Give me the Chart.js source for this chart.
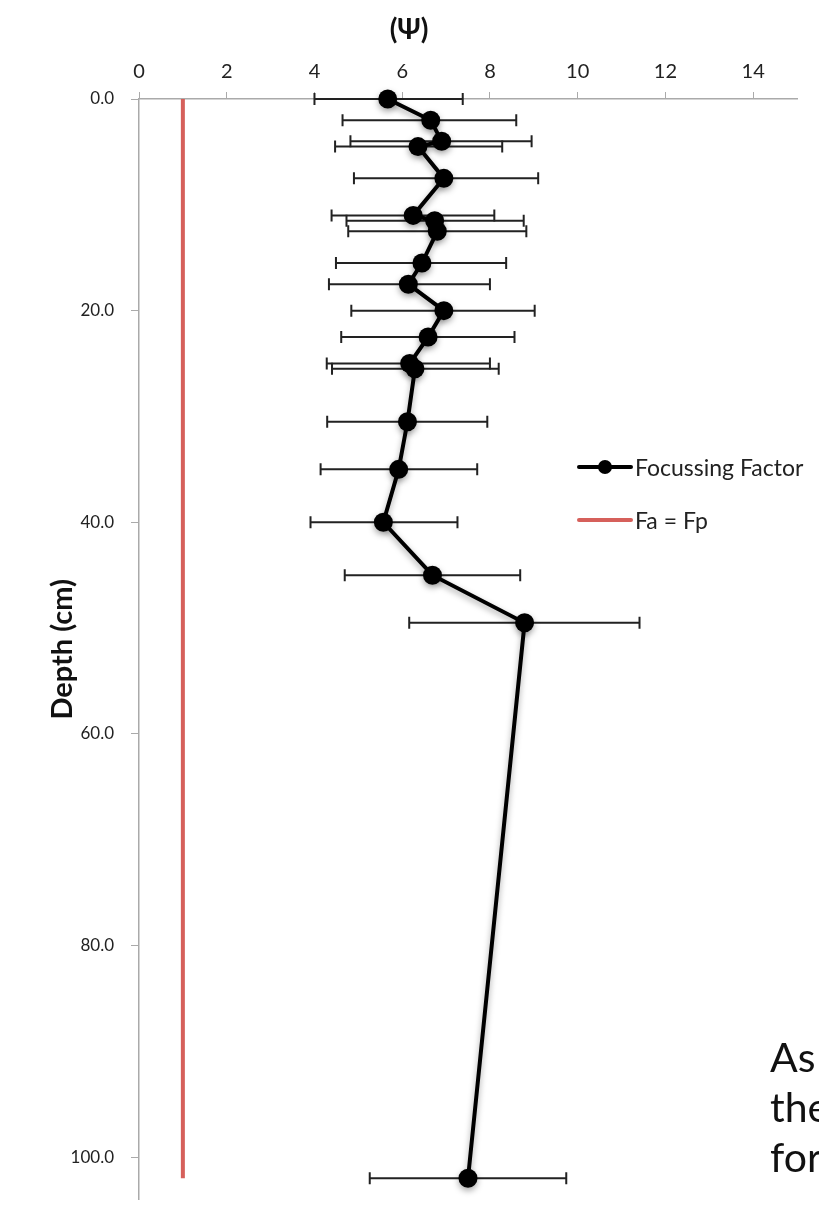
<!DOCTYPE html>
<html>
<head>
<meta charset="utf-8">
<script src="https://cdn.jsdelivr.net/npm/chart.js@4"></script>
<style>
  html, body { margin:0; padding:0; background:#fff; overflow:hidden; }
  #wrap { position:relative; width:819px; height:1209px; overflow:hidden; font-family: Lato, "Open Sans", sans-serif; }
  #legend { position:absolute; left:577px; top:440px; color:#222; font-size:23px; }
  .item { display:flex; align-items:center; height:53px; }
  .swatch { position:relative; width:56px; height:20px; margin-right:2px; }
  .swatch .ln { position:absolute; left:0; right:0; top:8px; height:4px; border-radius:2px; }
  .swatch .dot { position:absolute; left:21px; top:3px; width:14px; height:14px; border-radius:50%; background:#000; }
  #side { position:absolute; left:770px; top:1032px; font-size:41px; line-height:50px; color:#111; white-space:nowrap; }
</style>
</head>
<body>
<div id="wrap">
  <canvas id="chart" width="819" height="1209"></canvas>
  <div id="legend"></div>
  <div id="side">As<br>the<br>for</div>
</div>
<script>
// depth (cm) vs focussing factor
const depth  = [0, 2, 4, 4.5, 7.5, 11, 11.5, 12.5, 15.5, 17.5, 20, 22.5, 25, 25.5, 30.5, 35, 40, 45, 49.5, 102];
const ff     = [5.67, 6.65, 6.9, 6.36, 6.95, 6.25, 6.74, 6.8, 6.45, 6.14, 6.95, 6.59, 6.17, 6.29, 6.12, 5.92, 5.57, 6.69, 8.79, 7.5];
const ffLow  = [4.0, 4.64, 4.82, 4.47, 4.9, 4.39, 4.73, 4.77, 4.49, 4.33, 4.84, 4.61, 4.28, 4.4, 4.29, 4.14, 3.91, 4.69, 6.16, 5.26];
const ffHigh = [7.38, 8.6, 8.95, 8.28, 9.1, 8.1, 8.77, 8.83, 8.37, 8.0, 9.02, 8.56, 8.0, 8.2, 7.94, 7.71, 7.26, 8.69, 11.41, 9.74];
// Fa = Fp reference line
const faX     = [1, 1];
const faDepth = [0, 102];
// tick labels
const xTicks = [0, 2, 4, 6, 8, 10, 12, 14];
const yTicks = [0, 20, 40, 60, 80, 100];

const FONT = 'Lato, "Open Sans", sans-serif';

const errorBars = {
  id: 'errorBars',
  beforeDatasetsDraw(chart) {
    const { ctx, scales: { x, y } } = chart;
    ctx.save();
    ctx.strokeStyle = '#222';
    ctx.lineWidth = 2;
    depth.forEach((d, i) => {
      const py = y.getPixelForValue(d);
      const x0 = x.getPixelForValue(ffLow[i]), x1 = x.getPixelForValue(ffHigh[i]);
      ctx.beginPath();
      ctx.moveTo(x0, py); ctx.lineTo(x1, py);
      ctx.moveTo(x0, py - 6); ctx.lineTo(x0, py + 6);
      ctx.moveTo(x1, py - 6); ctx.lineTo(x1, py + 6);
      ctx.stroke();
    });
    ctx.restore();
  }
};

// soft drop shadow under the black series, like the original
const shadow = {
  id: 'shadow',
  beforeDatasetDraw(chart, args) {
    if (args.index !== 0) return;
    const ctx = chart.ctx;
    ctx.save();
    ctx.shadowColor = 'rgba(0,0,0,0.35)';
    ctx.shadowBlur = 6;
    ctx.shadowOffsetY = 3;
  },
  afterDatasetDraw(chart, args) {
    if (args.index === 0) chart.ctx.restore();
  }
};

const topTitle = {
  id: 'topTitle',
  afterDraw(chart) {
    const ctx = chart.ctx;
    ctx.save();
    ctx.font = 'bold 28px ' + FONT;
    ctx.fillStyle = '#111';
    ctx.textAlign = 'center';
    ctx.textBaseline = 'middle';
    ctx.fillText('(Ψ)', 409, 30);
    ctx.restore();
  }
};

const chart = new Chart(document.getElementById('chart').getContext('2d'), {
  type: 'scatter',
  data: {
    datasets: [
      {
        label: 'Focussing Factor',
        data: depth.map((d, i) => ({ x: ff[i], y: d })),
        showLine: true,
        borderColor: '#000',
        backgroundColor: '#000',
        borderWidth: 4,
        pointRadius: 9.5,
        pointBorderWidth: 0,
        tension: 0,
        clip: false
      },
      {
        label: 'Fa = Fp',
        data: faDepth.map((d, i) => ({ x: faX[i], y: d })),
        showLine: true,
        borderColor: '#d6605b',
        borderWidth: 4,
        pointRadius: 0,
        clip: false
      }
    ]
  },
  options: {
    responsive: false,
    animation: false,
    layout: { padding: { left: 0, right: 22, top: 0, bottom: 0 } },
    plugins: { legend: { display: false }, tooltip: { enabled: false } },
    scales: {
      x: {
        type: 'linear', position: 'top', min: 0, max: 15,
        afterBuildTicks: s => { s.ticks = xTicks.map(v => ({ value: v })); },
        afterFit: s => { s.height = 99; },
        grid: { drawOnChartArea: false, tickLength: 7, color: '#aaa' },
        border: { color: '#aaa', width: 1.5 },
        ticks: { font: { family: FONT, size: 20 }, color: '#222', padding: 8 }
      },
      y: {
        type: 'linear', reverse: true, min: 0, max: 104,
        afterBuildTicks: s => { s.ticks = yTicks.map(v => ({ value: v })); },
        afterFit: s => { s.width = 139; s.paddingTop = 0; s.paddingBottom = 0; },
        grid: { drawOnChartArea: false, tickLength: 8, color: '#aaa' },
        border: { color: '#aaa', width: 1.5 },
        ticks: { font: { family: FONT, size: 17 }, color: '#222', padding: 17, callback: v => v.toFixed(1) },
        title: { display: true, text: 'Depth (cm)', font: { family: FONT, size: 29, weight: 'bold' }, color: '#111', padding: { top: 45, bottom: 0 } }
      }
    }
  },
  plugins: [errorBars, shadow, topTitle]
});

// legend built from the datasets
const legend = document.getElementById('legend');
chart.data.datasets.forEach((ds, i) => {
  const item = document.createElement('div');
  item.className = 'item';
  item.innerHTML = '<span class="swatch"><span class="ln" style="background:' + ds.borderColor + '"></span>' +
    (i === 0 ? '<span class="dot"></span>' : '') + '</span><span>' + ds.label + '</span>';
  legend.appendChild(item);
});
</script>
</body>
</html>
